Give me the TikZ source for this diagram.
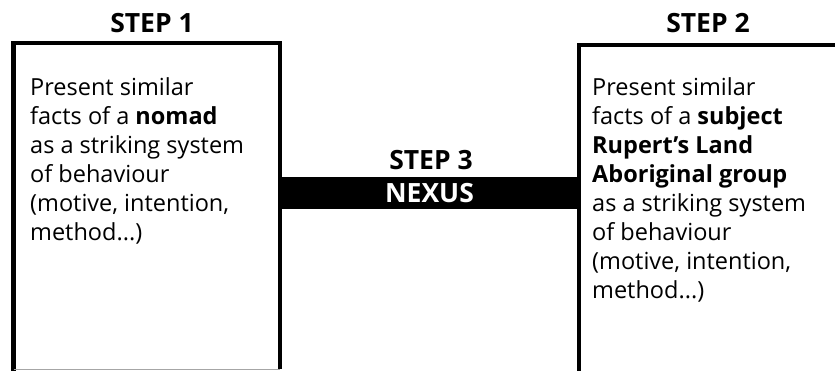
\documentclass[tikz,border=0pt]{standalone}
\usepackage{fontspec}
\setmainfont{Open Sans}

\begin{document}
\begin{tikzpicture}[x=1pt, y=1pt,
    steplabel/.style={anchor=base, inner sep=0pt, font=\fontsize{26.5}{30}\selectfont\bfseries},
    boxtext/.style={anchor=base west, align=left, inner sep=0pt, font=\fontsize{23.5}{29}\selectfont},
    boxline/.style={line width=4.5pt}]
    \useasboundingbox (0,0) rectangle (835,371);

    % Step 1 box (bottom edge is only a faint line)
    \draw[boxline] (13.5,0) -- (13.5,328) -- (280,328) -- (280,2);
    \draw[gray!70, line width=0.8pt] (13.5,2) -- (280,2);

    % Step 2 box (runs off the right and bottom)
    \draw[boxline] (579,0) -- (579,326) -- (835,326);

    % Headings
    \node[steplabel] (stepone) at (152,338) {STEP 1};
    \node[steplabel] (steptwo) at (708,338) {STEP 2};
    \node[steplabel] (stepthree) at (431,201) {STEP 3};

    % Nexus bar between the boxes
    \node[fill=black, text=white, minimum width=299pt, minimum height=32pt, inner sep=0pt,
        font=\fontsize{26.5}{30}\selectfont\bfseries] (nexus) at (429.5,178) {NEXUS};

    % Box texts (base = last line)
    \node[boxtext] (txtone) at (30,130) {Present similar\\
        facts of a \textbf{nomad}\\
        as a striking system\\
        of behaviour\\
        (motive, intention,\\
        method...)};
    \node[boxtext] (txttwo) at (592,72) {Present similar\\
        facts of a \textbf{subject}\\
        \textbf{Rupert's Land}\\
        \textbf{Aboriginal group}\\
        as a striking system\\
        of behaviour\\
        (motive, intention,\\
        method...)};
\end{tikzpicture}
\end{document}
